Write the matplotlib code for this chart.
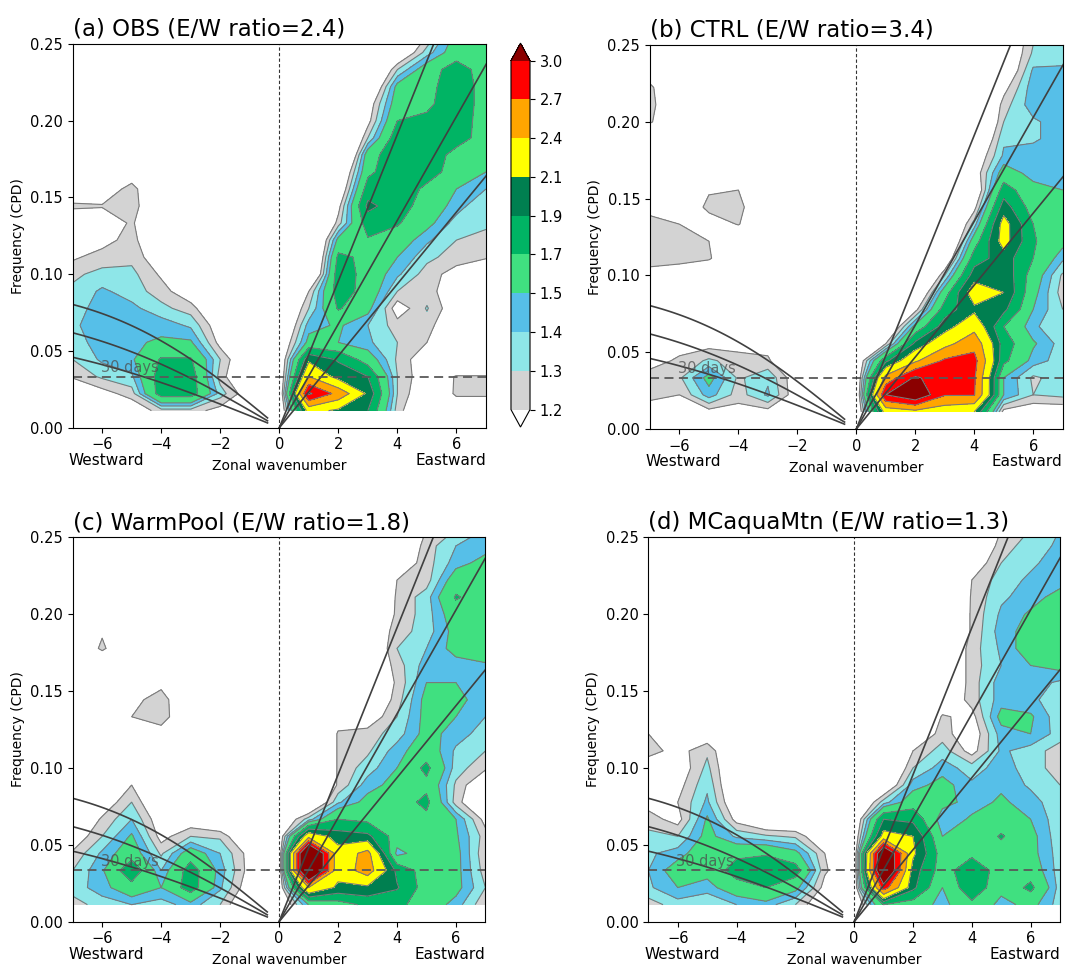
"""Wavenumber-frequency power ratio spectra for four runs (2x2 panels)."""

import numpy as np
import matplotlib
matplotlib.use("Agg")
import matplotlib.pyplot as plt
from matplotlib.colors import ListedColormap, BoundaryNorm
from matplotlib.ticker import FormatStrFormatter

# grid: zonal wavenumber -7..7, frequency rows listed from the top (23/90 cpd) down to 1/90 cpd
WAVENUMBER = np.arange(-7, 8)
FREQ = np.arange(23, 0, -1) / 90.0

LEVELS = [1.2, 1.3, 1.4, 1.5, 1.7, 1.9, 2.1, 2.4, 2.7, 3.0]
FILL_COLORS = ["#d3d3d3", "#8ee6e8", "#56bfe8", "#40e080", "#00b464",
               "#007f50", "#ffff00", "#ffa500", "#ff0000"]
OVER_COLOR = "#8b0000"

TITLES = ["(a) OBS (E/W ratio=2.4)", "(b) CTRL (E/W ratio=3.4)",
          "(c) WarmPool (E/W ratio=1.8)", "(d) MCaquaMtn (E/W ratio=1.3)"]

EQUIV_DEPTHS = [12, 25, 50]  # m, Kelvin and n=1 equatorial Rossby curves
PERIOD_DAYS = 30

OBS_POWER = [
    [1.0, 1.0, 1.0, 1.0, 1.0, 1.0, 1.0, 0.8, 0.7, 0.7, 0.7, 0.9, 1.2, 1.55, 1.55],
    [1.0, 1.0, 1.0, 1.0, 1.0, 1.0, 1.0, 0.8, 0.7, 0.7, 0.7, 1.0, 1.35, 1.6, 1.6],
    [1.0, 1.0, 1.0, 1.0, 1.0, 1.0, 1.0, 0.8, 0.7, 0.7, 0.8, 1.3, 1.6, 1.8, 1.6],
    [1.0, 1.0, 1.0, 1.0, 1.0, 1.0, 1.0, 0.8, 0.7, 0.7, 0.9, 1.55, 1.62, 1.85, 1.6],
    [1.0, 1.0, 1.0, 1.0, 1.0, 1.0, 1.0, 0.8, 0.7, 0.7, 1.1, 1.6, 1.65, 1.85, 1.6],
    [1.0, 1.0, 1.0, 1.0, 1.0, 1.0, 1.0, 0.8, 0.7, 0.7, 1.15, 1.7, 1.75, 1.82, 1.6],
    [1.0, 1.0, 1.0, 1.0, 1.0, 1.0, 1.0, 0.8, 0.7, 0.7, 1.3, 1.82, 1.85, 1.8, 1.6],
    [1.0, 1.0, 1.0, 1.0, 1.0, 1.0, 1.0, 0.8, 0.7, 0.6, 1.6, 1.85, 1.85, 1.62, 1.55],
    [1.0, 1.0, 1.1, 1.0, 1.0, 1.0, 1.0, 0.8, 0.7, 0.9, 1.65, 1.85, 1.8, 1.6, 1.5],
    [1.1, 1.1, 1.25, 1.0, 1.0, 1.0, 1.0, 0.8, 0.7, 1.0, 1.8, 1.85, 1.65, 1.5, 1.4],
    [1.22, 1.21, 1.3, 0.9, 1.0, 1.0, 1.0, 0.8, 0.7, 1.15, 1.95, 1.8, 1.6, 1.45, 1.3],
    [1.1, 1.1, 1.22, 1.0, 1.0, 1.0, 1.0, 0.8, 0.7, 1.25, 1.8, 1.72, 1.55, 1.35, 1.33],
    [1.1, 1.15, 1.25, 1.0, 1.0, 1.0, 1.0, 0.8, 0.7, 1.55, 1.68, 1.6, 1.42, 1.3, 1.25],
    [1.18, 1.25, 1.27, 1.1, 1.0, 1.0, 1.0, 0.8, 0.7, 1.75, 1.65, 1.5, 1.33, 1.25, 1.22],
    [1.28, 1.33, 1.33, 1.18, 1.0, 1.0, 1.0, 0.8, 0.8, 1.82, 1.62, 1.42, 1.25, 1.15, 1.0],
    [1.32, 1.42, 1.35, 1.25, 1.1, 1.0, 1.0, 0.8, 1.2, 1.8, 1.62, 1.3, 1.25, 1.1, 1.0],
    [1.35, 1.45, 1.43, 1.33, 1.25, 1.0, 1.0, 0.9, 1.3, 1.72, 1.55, 1.12, 1.31, 1.1, 1.0],
    [1.38, 1.46, 1.47, 1.46, 1.38, 1.1, 1.0, 0.9, 1.45, 1.52, 1.4, 1.25, 1.25, 1.05, 1.0],
    [1.35, 1.45, 1.48, 1.52, 1.52, 1.15, 1.0, 1.0, 1.55, 1.5, 1.42, 1.3, 1.2, 1.0, 1.0],
    [1.3, 1.42, 1.48, 1.72, 1.72, 1.3, 1.0, 1.0, 2.05, 1.88, 1.6, 1.28, 1.1, 1.0, 1.0],
    [1.22, 1.32, 1.38, 1.8, 1.8, 1.25, 1.0, 1.0, 2.4, 2.0, 1.9, 1.3, 1.1, 1.21, 1.21],
    [1.0, 1.15, 1.25, 1.8, 1.8, 1.35, 1.1, 1.0, 3.05, 2.6, 2.05, 1.3, 1.05, 1.22, 1.22],
    [1.0, 1.0, 1.1, 1.25, 1.25, 1.15, 1.0, 1.0, 2.2, 2.05, 1.9, 1.25, 1.0, 1.1, 1.1],
]

CTRL_POWER = [
    [1.0, 1.0, 1.0, 1.0, 1.0, 1.0, 1.0, 0.8, 0.7, 0.7, 0.7, 0.8, 1.0, 1.28, 1.32],
    [1.0, 1.0, 1.0, 1.0, 1.0, 1.0, 1.0, 0.8, 0.7, 0.7, 0.7, 0.8, 1.0, 1.32, 1.35],
    [1.1, 1.0, 1.0, 1.0, 1.0, 1.0, 1.0, 0.8, 0.7, 0.7, 0.7, 0.8, 1.0, 1.42, 1.42],
    [1.23, 1.0, 1.0, 1.0, 1.0, 1.0, 1.0, 0.8, 0.7, 0.7, 0.7, 0.8, 1.15, 1.46, 1.45],
    [1.25, 1.0, 1.0, 1.0, 1.0, 1.0, 1.0, 0.8, 0.7, 0.7, 0.7, 0.8, 1.25, 1.46, 1.46],
    [1.22, 1.0, 1.0, 1.0, 1.0, 1.0, 1.0, 0.8, 0.7, 0.7, 0.7, 0.8, 1.3, 1.38, 1.46],
    [1.0, 1.0, 1.0, 1.0, 1.0, 1.0, 1.0, 0.8, 0.7, 0.7, 0.7, 0.9, 1.38, 1.38, 1.46],
    [1.0, 1.0, 1.0, 1.0, 1.0, 1.0, 1.0, 0.8, 0.7, 0.7, 0.7, 1.05, 1.42, 1.46, 1.46],
    [1.0, 1.0, 1.0, 1.0, 1.0, 1.0, 1.0, 0.8, 0.7, 0.7, 0.7, 1.1, 1.58, 1.45, 1.5],
    [1.0, 1.0, 1.18, 1.2, 1.0, 1.0, 1.0, 0.8, 0.7, 0.7, 0.7, 1.0, 1.8, 1.55, 1.5],
    [1.15, 1.0, 1.25, 1.25, 1.0, 1.0, 1.0, 0.8, 0.7, 0.7, 0.7, 1.15, 2.0, 1.6, 1.55],
    [1.25, 1.2, 1.1, 1.21, 1.0, 1.0, 1.0, 0.8, 0.7, 0.7, 0.8, 1.35, 2.2, 1.7, 1.55],
    [1.25, 1.25, 1.2, 1.0, 1.0, 1.0, 1.0, 0.8, 0.7, 0.7, 0.8, 1.6, 2.2, 1.72, 1.55],
    [1.25, 1.25, 1.22, 1.0, 1.0, 1.0, 1.0, 0.8, 0.7, 0.7, 1.0, 1.8, 2.0, 1.7, 1.42],
    [1.15, 1.1, 1.0, 1.0, 1.0, 1.0, 1.0, 0.8, 0.7, 0.7, 1.3, 2.0, 2.05, 1.6, 1.28],
    [1.0, 1.0, 1.0, 1.0, 1.0, 1.0, 1.0, 0.8, 0.7, 0.9, 1.6, 2.25, 2.1, 1.55, 1.25],
    [1.0, 1.0, 1.0, 1.0, 1.0, 1.0, 1.0, 0.8, 0.8, 1.15, 1.8, 2.05, 1.95, 1.5, 1.3],
    [1.0, 1.0, 1.0, 1.0, 1.0, 1.0, 1.0, 0.9, 0.9, 1.55, 2.0, 2.3, 1.7, 1.42, 1.32],
    [1.1, 1.15, 1.15, 1.15, 1.15, 1.0, 1.0, 1.0, 1.2, 1.95, 2.3, 2.6, 1.8, 1.52, 1.35],
    [1.15, 1.22, 1.32, 1.25, 1.22, 1.0, 1.0, 1.0, 1.85, 2.35, 2.75, 2.8, 1.75, 1.45, 1.35],
    [1.25, 1.28, 1.55, 1.28, 1.38, 1.1, 1.0, 1.0, 2.5, 3.05, 2.8, 2.74, 1.5, 1.28, 1.35],
    [1.25, 1.2, 1.45, 1.25, 1.42, 1.1, 1.0, 1.0, 3.0, 3.3, 2.72, 2.72, 1.5, 1.3, 1.33],
    [1.1, 1.0, 1.15, 1.15, 1.15, 1.0, 1.0, 1.0, 2.2, 2.3, 2.2, 2.1, 1.15, 1.1, 1.1],
]

WARMPOOL_POWER = [
    [1.0, 1.0, 1.0, 1.0, 1.0, 1.0, 1.0, 0.8, 0.7, 0.7, 0.7, 0.9, 1.2, 1.3, 1.4],
    [1.0, 1.0, 1.0, 1.0, 1.0, 1.0, 1.0, 0.8, 0.7, 0.7, 0.7, 1.0, 1.25, 1.4, 1.45],
    [1.0, 1.0, 1.0, 1.0, 1.0, 1.0, 1.0, 0.8, 0.7, 0.7, 0.8, 1.1, 1.25, 1.45, 1.55],
    [1.0, 1.0, 1.0, 1.0, 1.0, 1.0, 1.0, 0.8, 0.7, 0.7, 0.8, 1.2, 1.25, 1.6, 1.6],
    [1.0, 1.0, 1.0, 1.0, 1.0, 1.0, 1.0, 0.8, 0.7, 0.7, 0.9, 1.22, 1.35, 1.72, 1.6],
    [1.0, 1.0, 1.0, 1.0, 1.0, 1.0, 1.0, 0.8, 0.7, 0.7, 1.0, 1.22, 1.35, 1.6, 1.6],
    [1.0, 1.18, 1.0, 1.0, 1.0, 1.0, 1.0, 0.8, 0.7, 0.7, 1.05, 1.25, 1.35, 1.55, 1.6],
    [1.0, 1.23, 1.0, 1.0, 1.0, 1.0, 1.0, 0.8, 0.7, 0.7, 1.0, 1.3, 1.4, 1.55, 1.6],
    [1.0, 1.0, 1.0, 1.0, 1.0, 1.0, 1.0, 0.8, 0.7, 0.7, 1.0, 1.25, 1.45, 1.45, 1.48],
    [1.0, 1.0, 1.0, 1.15, 1.0, 1.0, 1.0, 0.8, 0.7, 0.7, 1.0, 1.22, 1.5, 1.5, 1.45],
    [1.0, 1.0, 1.15, 1.27, 1.0, 1.0, 1.0, 0.8, 0.7, 0.7, 1.0, 1.25, 1.55, 1.55, 1.42],
    [1.0, 1.0, 1.2, 1.28, 1.0, 1.0, 1.0, 0.8, 0.7, 1.1, 1.1, 1.3, 1.55, 1.5, 1.4],
    [1.0, 1.0, 1.0, 1.12, 1.0, 1.0, 1.0, 0.8, 0.7, 1.22, 1.25, 1.35, 1.55, 1.45, 1.35],
    [1.0, 1.0, 1.0, 1.0, 1.0, 1.0, 1.0, 0.8, 0.7, 1.22, 1.28, 1.45, 1.6, 1.38, 1.3],
    [1.0, 1.0, 1.05, 1.0, 1.0, 1.0, 1.0, 0.8, 0.7, 1.22, 1.35, 1.5, 1.75, 1.35, 1.22],
    [1.0, 1.0, 1.2, 1.0, 1.0, 1.0, 1.0, 0.8, 0.8, 1.22, 1.45, 1.55, 1.65, 1.28, 1.05],
    [1.0, 1.1, 1.3, 1.0, 1.0, 1.0, 1.0, 0.8, 0.9, 1.38, 1.55, 1.6, 1.75, 1.25, 1.0],
    [1.0, 1.22, 1.4, 1.1, 1.1, 1.0, 1.0, 1.0, 1.35, 1.7, 1.65, 1.6, 1.65, 1.5, 1.15],
    [1.1, 1.3, 1.52, 1.15, 1.3, 1.28, 1.0, 1.05, 2.3, 2.0, 1.95, 1.6, 1.62, 1.52, 1.25],
    [1.22, 1.42, 1.6, 1.28, 1.6, 1.4, 1.15, 1.05, 3.8, 2.2, 2.5, 1.45, 1.6, 1.55, 1.22],
    [1.3, 1.48, 1.85, 1.4, 1.8, 1.45, 1.15, 1.05, 3.8, 2.2, 2.55, 1.85, 1.6, 1.55, 1.25],
    [1.35, 1.45, 1.62, 1.5, 1.8, 1.42, 1.1, 1.05, 2.4, 2.05, 2.05, 1.92, 1.6, 1.55, 1.3],
    [1.25, 1.35, 1.4, 1.35, 1.45, 1.3, 1.0, 1.0, 1.5, 1.6, 1.75, 1.75, 1.6, 1.45, 1.22],
]

AQUAMTN_POWER = [
    [1.0, 1.0, 1.0, 1.0, 1.0, 1.0, 1.0, 0.8, 0.7, 0.7, 0.7, 0.9, 1.2, 1.3, 1.4],
    [1.0, 1.0, 1.0, 1.0, 1.0, 1.0, 1.0, 0.8, 0.7, 0.7, 0.7, 1.0, 1.25, 1.35, 1.42],
    [1.0, 1.0, 1.0, 1.0, 1.0, 1.0, 1.0, 0.8, 0.7, 0.7, 0.7, 1.1, 1.3, 1.38, 1.45],
    [1.0, 1.0, 1.0, 1.0, 1.0, 1.0, 1.0, 0.8, 0.7, 0.7, 0.8, 1.2, 1.35, 1.42, 1.45],
    [1.0, 1.0, 1.0, 1.0, 1.0, 1.0, 1.0, 0.8, 0.7, 0.7, 0.8, 1.22, 1.38, 1.45, 1.55],
    [1.0, 1.0, 1.0, 1.0, 1.0, 1.0, 1.0, 0.8, 0.7, 0.7, 0.9, 1.22, 1.42, 1.52, 1.6],
    [1.0, 1.0, 1.0, 1.0, 1.0, 1.0, 1.0, 0.8, 0.7, 0.7, 0.9, 1.22, 1.45, 1.55, 1.6],
    [1.0, 1.0, 1.0, 1.0, 1.0, 1.0, 1.0, 0.8, 0.7, 0.7, 1.0, 1.25, 1.42, 1.58, 1.6],
    [1.0, 1.0, 1.0, 1.0, 1.0, 1.0, 1.0, 0.8, 0.7, 0.7, 1.0, 1.25, 1.4, 1.5, 1.55],
    [1.0, 1.0, 1.0, 1.0, 1.0, 1.0, 1.0, 0.8, 0.7, 0.7, 1.0, 1.25, 1.45, 1.45, 1.38],
    [1.0, 1.0, 1.0, 1.0, 1.0, 1.0, 1.0, 0.8, 0.7, 0.7, 1.05, 1.25, 1.45, 1.42, 1.35],
    [1.0, 1.0, 1.0, 1.0, 1.0, 1.0, 1.0, 0.8, 0.7, 0.8, 1.22, 1.15, 1.55, 1.52, 1.33],
    [1.2, 1.0, 1.1, 1.0, 1.0, 1.0, 1.0, 0.8, 0.7, 1.05, 1.25, 1.1, 1.45, 1.5, 1.35],
    [1.25, 1.15, 1.28, 1.0, 1.0, 1.0, 1.0, 0.8, 0.8, 1.2, 1.35, 1.15, 1.42, 1.35, 1.25],
    [1.1, 1.1, 1.33, 1.0, 1.0, 1.0, 1.0, 0.8, 0.9, 1.3, 1.45, 1.35, 1.45, 1.35, 1.25],
    [1.1, 1.15, 1.38, 1.0, 1.0, 1.0, 1.0, 0.8, 1.0, 1.45, 1.55, 1.42, 1.48, 1.38, 1.3],
    [1.15, 1.2, 1.42, 1.05, 1.0, 1.0, 1.0, 0.9, 1.35, 1.6, 1.55, 1.45, 1.52, 1.45, 1.32],
    [1.25, 1.15, 1.52, 1.15, 1.0, 1.0, 1.0, 1.0, 1.9, 1.85, 1.42, 1.52, 1.6, 1.5, 1.33],
    [1.33, 1.3, 1.55, 1.38, 1.32, 1.28, 1.05, 1.05, 2.2, 2.1, 1.5, 1.55, 1.72, 1.55, 1.33],
    [1.38, 1.45, 1.6, 1.65, 1.68, 1.55, 1.2, 1.05, 3.5, 2.15, 1.6, 1.65, 1.62, 1.55, 1.35],
    [1.4, 1.58, 1.55, 1.8, 1.85, 1.8, 1.22, 1.05, 3.6, 2.0, 1.6, 1.85, 1.6, 1.6, 1.35],
    [1.38, 1.5, 1.45, 1.6, 1.7, 1.55, 1.15, 1.05, 2.85, 1.95, 1.5, 1.85, 1.55, 1.75, 1.35],
    [1.25, 1.35, 1.3, 1.4, 1.45, 1.3, 1.05, 1.0, 1.7, 1.6, 1.45, 1.65, 1.45, 1.55, 1.35],
]

PANELS = [OBS_POWER, CTRL_POWER, WARMPOOL_POWER, AQUAMTN_POWER]
AXES_RECTS = [
    [0.068, 0.5577, 0.3866, 0.3968],
    [0.608, 0.5564, 0.3861, 0.3971],
    [0.068, 0.0468, 0.3861, 0.3975],
    [0.6065, 0.0468, 0.3851, 0.3975],
]

# shallow-water dispersion curves
G = 9.81
R_EARTH = 6.371e6
BETA = 2 * 7.292e-5 / R_EARTH
TO_CPD = 86400 / (2 * np.pi)


def kelvin_freq(k, h):
    c = np.sqrt(G * h)
    return c * k / R_EARTH * TO_CPD


def rossby_freq(k, h, n=1):
    c = np.sqrt(G * h)
    km = k / R_EARTH
    return -BETA * km / (km ** 2 + (2 * n + 1) * BETA / c) * TO_CPD


cmap = ListedColormap(FILL_COLORS)
cmap.set_under("white")
cmap.set_over(OVER_COLOR)
norm = BoundaryNorm(LEVELS, cmap.N)

fig = plt.figure(figsize=(10.69, 9.67), dpi=100)
kk, ff = np.meshgrid(WAVENUMBER, FREQ)
k_east = np.linspace(0, 7.5, 50)
k_west = np.linspace(-7.5, -0.4, 120)

for title, power, rect in zip(TITLES, PANELS, AXES_RECTS):
    ax = fig.add_axes(rect)
    z = np.array(power)
    cf = ax.contourf(kk, ff, z, levels=LEVELS, cmap=cmap, norm=norm, extend="both")
    ax.contour(kk, ff, z, levels=LEVELS, colors="0.48", linewidths=0.8)

    for h in EQUIV_DEPTHS:
        ax.plot(k_east, kelvin_freq(k_east, h), color="0.25", lw=1.2)
        ax.plot(k_west, rossby_freq(k_west, h), color="0.25", lw=1.2)

    ax.axhline(1 / PERIOD_DAYS, color="0.35", lw=1.3, dashes=(5, 3))
    ax.axvline(0, color="0.2", lw=0.8, dashes=(3, 2))
    ax.text(-6.05, 1 / PERIOD_DAYS + 0.001, f"{PERIOD_DAYS} days", color="0.3",
            alpha=0.75, fontsize=10.5, ha="left", va="bottom")

    ax.set_xlim(-7, 7)
    ax.set_ylim(0, 0.25)
    ax.set_xticks([-6, -4, -2, 0, 2, 4, 6])
    ax.set_yticks([0, 0.05, 0.10, 0.15, 0.20, 0.25])
    ax.yaxis.set_major_formatter(FormatStrFormatter("%.2f"))
    ax.tick_params(labelsize=10.5)
    ax.set_ylabel("Frequency (CPD)", fontsize=10)
    ax.set_xlabel("Zonal wavenumber", fontsize=10, labelpad=5)
    ax.text(-0.01, -0.065, "Westward", transform=ax.transAxes, ha="left",
            va="top", fontsize=11)
    ax.text(1.0, -0.065, "Eastward", transform=ax.transAxes, ha="right",
            va="top", fontsize=11)
    ax.set_title(title, loc="left", fontsize=16.5, pad=6)

cax = fig.add_axes([0.478, 0.5584, 0.0178, 0.397])
cb = fig.colorbar(cf, cax=cax, ticks=LEVELS, extend="both")
cb.ax.set_yticklabels([f"{v:.1f}" for v in LEVELS])
cb.ax.tick_params(labelsize=10.5)

fig.savefig("out.png", dpi=100)
